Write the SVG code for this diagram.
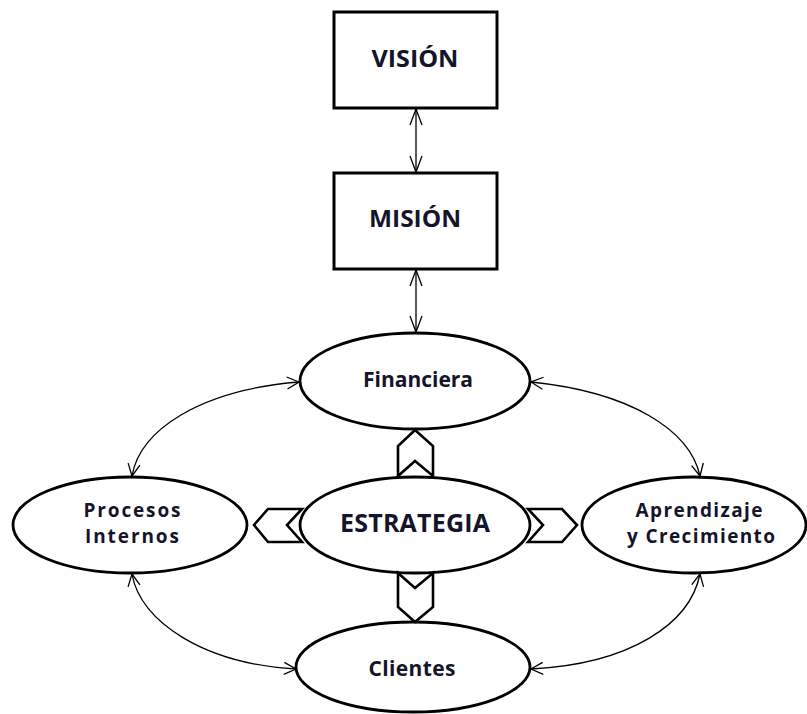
<svg xmlns="http://www.w3.org/2000/svg" width="807" height="714" viewBox="0 0 807 714">
<defs>
<marker id="ah" viewBox="0 0 14 14" refX="13" refY="7" markerWidth="14" markerHeight="14" markerUnits="userSpaceOnUse" orient="auto-start-reverse">
<path d="M1 1 L13 7 L1 13" fill="none" stroke="#000" stroke-width="1.3"/>
</marker>
<marker id="ahv" viewBox="0 0 18 14" refX="17" refY="7" markerWidth="18" markerHeight="14" markerUnits="userSpaceOnUse" orient="auto-start-reverse">
<path d="M1 1 L17 7 L1 13" fill="none" stroke="#000" stroke-width="1.3"/>
</marker>
</defs>
<style>
.box{fill:#fff;stroke:#000;stroke-width:3}
.ell{fill:#fff;stroke:#000;stroke-width:2.8}
.chev{fill:#fff;stroke:#000;stroke-width:2.6;stroke-linejoin:miter}
.t{font-family:"Open Sans",Lato,"Liberation Sans",sans-serif;font-weight:bold;fill:#14142a;text-anchor:middle}
.con{fill:none;stroke:#000;stroke-width:1.3}
</style>
<rect width="807" height="714" fill="#fff"/>
<g id="connectors">
<path class="con" d="M416 109 L416 172" marker-start="url(#ahv)" marker-end="url(#ahv)"/>
<path class="con" d="M416 270 L416 332" marker-start="url(#ahv)" marker-end="url(#ahv)"/>
<path class="con" d="M299 382 C200 390 140 430 132 476" marker-start="url(#ah)" marker-end="url(#ah)"/>
<path class="con" d="M132 574 C140 622 205 664 296 669" marker-start="url(#ah)" marker-end="url(#ah)"/>
<path class="con" d="M531 382 C630 392 690 430 700 476" marker-start="url(#ah)" marker-end="url(#ah)"/>
<path class="con" d="M700 574 C690 624 630 664 531 669" marker-start="url(#ah)" marker-end="url(#ah)"/>
</g>
<g id="vision">
<rect class="box" x="334" y="12" width="163" height="96"/>
<text class="t" x="415" y="67" font-size="24" textLength="87" lengthAdjust="spacingAndGlyphs">VISIÓN</text>
</g>
<g id="mision">
<rect class="box" x="334" y="173" width="163" height="96"/>
<text class="t" x="415" y="227" font-size="24" textLength="92" lengthAdjust="spacingAndGlyphs">MISIÓN</text>
</g>
<g id="financiera">
<ellipse class="ell" cx="415" cy="381" rx="115" ry="48"/>
<text class="t" x="418" y="387" font-size="21" textLength="110" lengthAdjust="spacing">Financiera</text>
</g>
<g id="procesos">
<ellipse class="ell" cx="130" cy="525" rx="117" ry="48"/>
<text class="t" x="132" y="517" font-size="19" textLength="97" lengthAdjust="spacing">Procesos</text>
<text class="t" x="132" y="543" font-size="19" textLength="94" lengthAdjust="spacing">Internos</text>
</g>
<g id="aprendizaje">
<ellipse class="ell" cx="694" cy="525" rx="112" ry="48"/>
<text class="t" x="699" y="517" font-size="19" textLength="127" lengthAdjust="spacing">Aprendizaje</text>
<text class="t" x="701" y="543" font-size="19" textLength="148" lengthAdjust="spacing">y Crecimiento</text>
</g>
<g id="clientes">
<ellipse class="ell" cx="413" cy="667" rx="117" ry="45"/>
<text class="t" x="412" y="676" font-size="21" textLength="87" lengthAdjust="spacing">Clientes</text>
</g>
<g id="estrategia">
<ellipse class="ell" cx="415" cy="525" rx="115" ry="48"/>
<text class="t" x="415" y="532" font-size="25" textLength="150" lengthAdjust="spacing">ESTRATEGIA</text>
</g>
<g id="chevrons">
<polygon class="chev" points="415,430 433,446 433,476 415,461 398,476 398,446"/>
<polygon class="chev" points="398,573 415,588 433,573 433,607 415,622 398,607"/>
<polygon class="chev" points="254,525 268,509 302,509 287,525 302,542 268,542"/>
<polygon class="chev" points="528,509 562,509 577,525 562,542 528,542 543,525"/>
</g>
</svg>
